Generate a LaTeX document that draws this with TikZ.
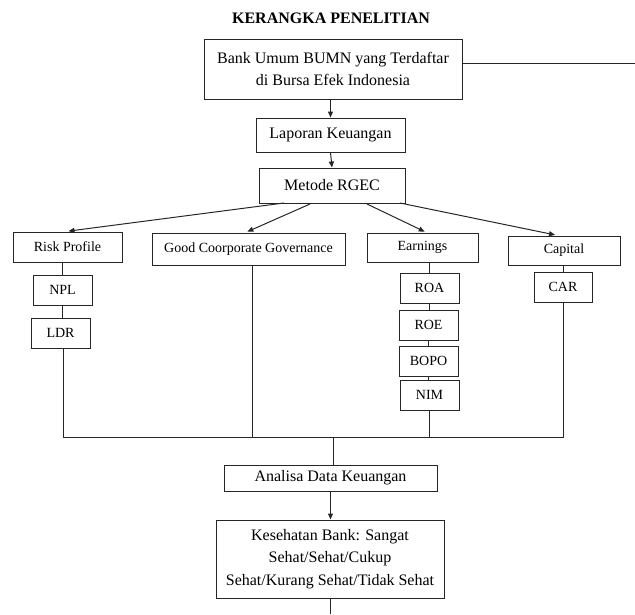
\documentclass[tikz,border=0pt]{standalone}
\usepackage{fontspec}
\setmainfont{Liberation Serif}
\usetikzlibrary{arrows.meta}
\begin{document}
\begin{tikzpicture}[x=1pt,y=-1pt,
  box/.style={draw=black!85, line width=1pt, inner sep=0pt, align=center},
  big/.style={font=\fontsize{16}{22.5}\selectfont},
  small/.style={font=\fontsize{14}{17}\selectfont},
  conn/.style={draw=black!85, line width=1pt},
  arr/.style={conn, -{Triangle[length=6pt,width=5pt]}}]
\useasboundingbox (0,0) rectangle (635,614);
\node[font=\fontsize{16}{19}\bfseries] (title) at (331,18) {KERANGKA PENELITIAN};
\node[box,big,minimum width=258,minimum height=60] (bank) at (333,69) {Bank Umum BUMN yang Terdaftar\\di Bursa Efek Indonesia};
\node[box,big,minimum width=149,minimum height=34] (lap) at (330.5,135) {Laporan Keuangan};
\node[box,big,minimum width=146,minimum height=35] (rgec) at (332,185.5) {Metode RGEC};
\node[box,small,minimum width=109,minimum height=30] (risk) at (67.5,247) {Risk Profile};
\node[box,small,minimum width=193,minimum height=32] (gcg) at (248.5,249) {Good Coorporate Governance};
\node[box,small,minimum width=111,minimum height=29] (earn) at (422.5,247.5) {Earnings};
\node[box,small,minimum width=112,minimum height=29] (cap) at (564,250.5) {Capital};
\node[box,small,minimum width=59,minimum height=30] (npl) at (62.5,290) {NPL};
\node[box,small,minimum width=59,minimum height=30] (ldr) at (60.5,333) {LDR};
\node[box,small,minimum width=59,minimum height=30] (roa) at (429.5,288) {ROA};
\node[box,small,minimum width=59,minimum height=30] (roe) at (428.5,325) {ROE};
\node[box,small,minimum width=59,minimum height=30] (bopo) at (428.5,361) {BOPO};
\node[box,small,minimum width=59,minimum height=30] (nim) at (429.5,395) {NIM};
\node[box,small,minimum width=58,minimum height=30] (car) at (563,287) {CAR};
\node[box,big,minimum width=213,minimum height=26] (ana) at (330.5,478) {Analisa Data Keuangan};
\node[box,big,minimum width=228,minimum height=78] (kes) at (330,559) {Kesehatan Bank: Sangat\\Sehat/Sehat/Cukup\\Sehat/Kurang Sehat/Tidak Sehat};
% coordinates
\coordinate (rightend) at (635,63);
\coordinate (m1) at (284,203);
\coordinate (m2) at (310,204);
\coordinate (m3) at (367,204);
\coordinate (m4) at (400,203);
\coordinate (bus) at (333,437);
\coordinate (botend) at (330,614);
% connectors
\draw[conn] (bank.east |- rightend) -- (rightend);
\draw[arr] (bank.south -| lap.north) -- (lap.north);
\draw[arr] (lap.south) -- (rgec.north);
\draw[arr, shorten >=3pt] (m1) -- ([xshift=-2pt]risk.north);
\draw[arr, shorten >=2pt] (m2) -- ([xshift=-3pt]gcg.north);
\draw[arr, shorten >=2pt] (m3) -- ([xshift=4pt]earn.north);
\draw[arr, shorten >=3pt] (m4) -- ([xshift=-6pt]cap.north);
\draw[conn] (npl.north) -- (npl.north |- risk.south);
\draw[conn] (npl.south) -- (npl.south |- ldr.north);
\draw[conn] (roa.north) -- (roa.north |- earn.south);
\draw[conn] (roa.south) -- (roa.south |- roe.north);
\draw[conn] (roe.south) -- (roe.south |- bopo.north);
\draw[conn] (bopo.south) -- (bopo.south |- nim.north);
\draw[conn] (car.north) -- (car.north |- cap.south);
\draw[conn] ([xshift=2.5pt]ldr.south) -- ([xshift=2.5pt]ldr.south |- bus) -- (car.south |- bus) -- (car.south);
\draw[conn] ([xshift=3.5pt]gcg.south) -- ([xshift=3.5pt]gcg.south |- bus);
\draw[conn] (nim.south) -- (nim.south |- bus);
\draw[conn] (bus) -- (bus |- ana.north);
\draw[arr] (ana.south) -- (ana.south |- kes.north);
\draw[conn] (kes.south) -- (botend);
\end{tikzpicture}
\end{document}
